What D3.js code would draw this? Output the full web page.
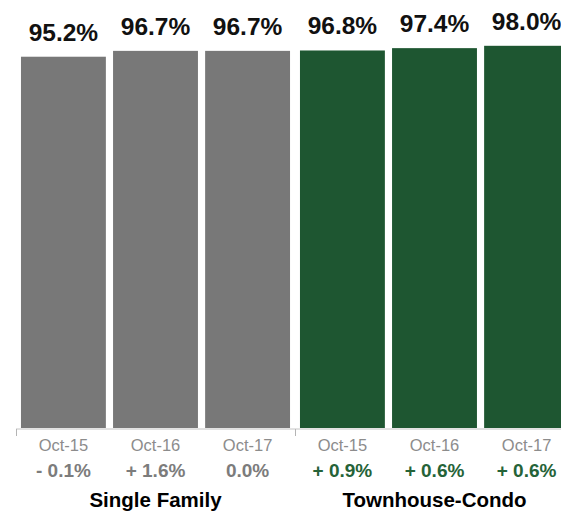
<!DOCTYPE html>
<html>
<head>
<meta charset="utf-8">
<script src="https://cdn.jsdelivr.net/npm/d3@7"></script>
<style>
  body { margin: 0; background: #fff; }
  svg text { font-family: "Liberation Sans", Arial, Helvetica, sans-serif; }
</style>
</head>
<body>
<div id="chart"></div>
<script>
// Percent of original list price received, by property type
const groups = ["Single Family", "Townhouse-Condo"];
const periods = ["Oct-15", "Oct-16", "Oct-17"];
const singleFamily = [95.2, 96.7, 96.7];
const townhouseCondo = [96.8, 97.4, 98.0];
const singleFamilyChange = ["- 0.1%", "+ 1.6%", "0.0%"];
const townhouseCondoChange = ["+ 0.9%", "+ 0.6%", "+ 0.6%"];

const colors = { "Single Family": "#787878", "Townhouse-Condo": "#1e5631" };
const changeColors = { "Single Family": "#7c7c7c", "Townhouse-Condo": "#256338" };

const rows = [
    { group: groups[0], values: singleFamily, changes: singleFamilyChange },
    { group: groups[1], values: townhouseCondo, changes: townhouseCondoChange }
];

const width = 561, height = 516;
const baseline = 428;

const svg = d3.select("#chart")
    .append("svg")
    .attr("width", width)
    .attr("height", height);

// Outer scale: one band per property type
const x0 = d3.scaleBand()
    .domain(groups)
    .range([16, 574])
    .padding(0);

// Inner scale: one bar per period inside a group
const x1 = d3.scaleBand()
    .domain(periods)
    .range([0, x0.bandwidth()])
    .paddingInner(0.078)
    .paddingOuter(0.054);

const y = d3.scaleLinear()
    .domain([0, 100])
    .range([baseline, 38]);

const fmt = d3.format(".1f");

// Axis line with ticks at group boundaries
const axis = svg.append("g").attr("class", "x-axis");
axis.append("line")
    .attr("x1", x0.range()[0])
    .attr("x2", x0.range()[1])
    .attr("y1", baseline + 1)
    .attr("y2", baseline + 1)
    .attr("stroke", "#c4c4c4")
    .attr("stroke-width", 1);

const bounds = groups.map(g => x0(g)).concat([x0.range()[1]]);
axis.selectAll(".tick")
    .data(bounds)
    .join("line")
    .attr("class", "tick")
    .attr("x1", d => d + 0.5)
    .attr("x2", d => d + 0.5)
    .attr("y1", baseline + 1)
    .attr("y2", baseline + 8)
    .attr("stroke", "#b4b4b4")
    .attr("stroke-width", 1);

const g = svg.selectAll(".group")
    .data(rows)
    .join("g")
    .attr("class", "group")
    .attr("transform", d => `translate(${x0(d.group)},0)`);

const items = d => d.values.map((v, i) => ({
    group: d.group, period: periods[i], value: v, change: d.changes[i]
}));

g.selectAll(".bar")
    .data(items)
    .join("rect")
    .attr("class", "bar")
    .attr("x", d => x1(d.period))
    .attr("width", x1.bandwidth())
    .attr("y", d => y(d.value))
    .attr("height", d => baseline - y(d.value))
    .attr("fill", d => colors[d.group]);

g.selectAll(".value-label")
    .data(items)
    .join("text")
    .attr("class", "value-label")
    .attr("x", d => x1(d.period) + x1.bandwidth() / 2)
    .attr("y", d => y(d.value) - 16)
    .attr("text-anchor", "middle")
    .style("font-size", "24.5px")
    .style("font-weight", "bold")
    .attr("fill", "#111")
    .text(d => fmt(d.value) + "%");

g.selectAll(".period-label")
    .data(items)
    .join("text")
    .attr("class", "period-label")
    .attr("x", d => x1(d.period) + x1.bandwidth() / 2)
    .attr("y", 450.5)
    .attr("text-anchor", "middle")
    .style("font-size", "16.5px")
    .attr("fill", "#8c8c8c")
    .text(d => d.period);

g.selectAll(".change-label")
    .data(items)
    .join("text")
    .attr("class", "change-label")
    .attr("x", d => x1(d.period) + x1.bandwidth() / 2)
    .attr("y", 476.5)
    .attr("text-anchor", "middle")
    .style("font-size", "19px")
    .style("font-weight", "bold")
    .attr("fill", d => changeColors[d.group])
    .text(d => d.change);

g.append("text")
    .attr("class", "group-label")
    .attr("x", x0.bandwidth() / 2)
    .attr("y", 507)
    .attr("text-anchor", "middle")
    .style("font-size", "20.5px")
    .style("font-weight", "bold")
    .attr("fill", "#000")
    .text(d => d.group);
</script>
</body>
</html>
